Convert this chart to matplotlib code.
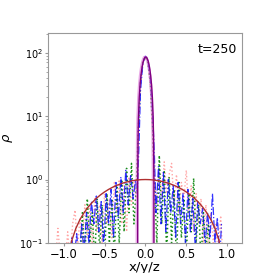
import numpy as np
import matplotlib.pyplot as plt

# ----------------------------
# Data
# ----------------------------
# broad analytic profile (radius 1, centre density 1)
r_broad = [0.0, 0.05, 0.10, 0.15, 0.20, 0.25, 0.30, 0.35, 0.40, 0.45, 0.50,
           0.55, 0.60, 0.65, 0.70, 0.75, 0.80, 0.85, 0.90, 0.95]
rho_broad = [1.0, 0.996, 0.984, 0.963, 0.935, 0.900, 0.858, 0.810, 0.757, 0.699, 0.637,
             0.572, 0.505, 0.436, 0.368, 0.300, 0.234, 0.170, 0.109, 0.052]

# compact core profile (radius 0.1, centre density ~85)
r_core = [0.0, 0.01, 0.02, 0.03, 0.04, 0.05, 0.06, 0.07, 0.08, 0.09, 0.095, 0.099, 0.1]
rho_core = [85.0, 84.7, 79.5, 73.0, 64.4, 54.1, 42.9, 31.3, 19.9, 9.3, 4.4, 0.9, 0.001]
core_centre = 0.005
core_centre_b = -0.004

# blue dash-dot
x_blue = [-0.93, -0.90, -0.87, -0.84, -0.81, -0.78, -0.75, -0.72, -0.69, -0.66, -0.63,
          -0.60, -0.57, -0.54, -0.51, -0.48, -0.45, -0.42, -0.39, -0.36, -0.33, -0.30,
          -0.27, -0.24, -0.21, -0.18, -0.15, -0.12, -0.10, -0.08, -0.06, -0.03, 0.0,
          0.03, 0.06, 0.09, 0.11, 0.13, 0.16, 0.19, 0.22, 0.25, 0.28, 0.31, 0.34, 0.37,
          0.40, 0.43, 0.46, 0.49, 0.52, 0.55, 0.58, 0.61, 0.64, 0.67, 0.70, 0.73, 0.76,
          0.79, 0.82, 0.85, 0.88, 0.91, 0.93]
y_blue = [0.05, 0.12, 0.06, 0.14, 0.05, 0.20, 0.07, 0.30, 0.10, 0.45, 0.20,
          0.55, 0.15, 0.45, 0.08, 0.60, 0.20, 0.70, 0.12, 0.90, 0.25, 1.10,
          0.30, 1.40, 0.40, 1.20, 0.50, 1.00, 0.60, 3.0, 25.0, 70.0, 88.0,
          75.0, 40.0, 10.0, 2.5, 0.30, 1.60, 0.20, 1.30, 0.15, 1.00, 0.30, 0.80, 0.12,
          0.90, 0.20, 0.60, 0.10, 0.70, 0.15, 0.50, 0.08, 0.45, 0.20, 0.35, 0.09, 0.30,
          0.12, 0.60, 0.10, 0.25, 0.06, 0.20]

# green dotted
x_green = [-0.80, -0.77, -0.74, -0.71, -0.68, -0.65, -0.62, -0.59, -0.56, -0.53, -0.50,
           -0.47, -0.44, -0.41, -0.38, -0.35, -0.32, -0.29, -0.26, -0.23, -0.20, -0.17,
           -0.14, -0.11, -0.09, -0.06, -0.03, 0.0, 0.03, 0.06, 0.09, 0.11, 0.14, 0.17,
           0.20, 0.23, 0.26, 0.29, 0.32, 0.35, 0.38, 0.41, 0.44, 0.47, 0.50, 0.53, 0.56,
           0.59, 0.62, 0.65, 0.68, 0.71, 0.74, 0.77, 0.80]
y_green = [0.05, 0.30, 0.06, 0.50, 0.10, 0.30, 0.05, 0.50, 0.08, 0.40, 0.05,
           0.60, 0.10, 0.50, 0.06, 0.80, 0.10, 1.00, 0.15, 1.50, 0.30, 1.80,
           0.20, 0.80, 5.0, 35.0, 75.0, 85.0, 72.0, 35.0, 6.0, 0.80, 0.10, 2.40,
           0.20, 1.40, 0.06, 1.10, 0.10, 0.70, 0.05, 0.90, 0.12, 0.50, 0.06, 0.60, 0.15,
           1.05, 0.10, 0.40, 0.05, 0.30, 0.08, 0.20, 0.05]

# light red dotted
x_red = [-1.10, -1.07, -1.04, -0.98, -0.95, -0.92, -0.89, -0.86, -0.83, -0.80, -0.77,
         -0.74, -0.71, -0.68, -0.65, -0.62, -0.59, -0.56, -0.53, -0.50, -0.47, -0.44,
         -0.41, -0.38, -0.35, -0.32, -0.29, -0.26, -0.23, -0.20, -0.17, -0.14, -0.11,
         -0.09, -0.06, -0.03, 0.0, 0.03, 0.06, 0.09, 0.11, 0.14, 0.17, 0.20, 0.23,
         0.26, 0.29, 0.32, 0.35, 0.38, 0.41, 0.44, 0.47, 0.50, 0.53, 0.56, 0.59, 0.62,
         0.65, 0.68, 0.71, 0.74, 0.77, 0.80, 0.83, 0.86, 0.89, 0.92, 0.95]
y_red = [0.05, 0.17, 0.06, 0.05, 0.15, 0.05, 0.20, 0.33, 0.08, 0.25, 0.10,
         0.40, 0.12, 0.35, 0.09, 0.50, 0.15, 0.40, 0.10, 0.60, 0.20, 0.50,
         0.12, 0.90, 0.30, 1.00, 0.20, 0.80, 0.15, 1.10, 0.40, 0.90, 0.50,
         3.0, 30.0, 72.0, 86.0, 70.0, 30.0, 5.0, 1.20, 0.40, 1.50, 0.50, 1.90,
         0.60, 1.20, 1.80, 0.40, 1.20, 0.30, 0.90, 0.50, 1.40, 0.30, 0.80, 0.15, 0.60,
         0.20, 0.50, 0.10, 0.40, 0.08, 0.30, 0.10, 0.20, 0.06, 0.27, 0.05]

time_label = "t=250"

# ----------------------------
# Build mirrored analytic curves
# ----------------------------
r_broad = np.array(r_broad)
rho_broad = np.array(rho_broad)
xb = np.concatenate([-r_broad[::-1], r_broad[1:]])
yb = np.concatenate([rho_broad[::-1], rho_broad[1:]])

r_core = np.array(r_core)
rho_core = np.array(rho_core)
xc = np.concatenate([-r_core[::-1], r_core[1:]])
yc = np.concatenate([rho_core[::-1], rho_core[1:]])

# ----------------------------
# Plot
# ----------------------------
fig = plt.figure(figsize=(2.7, 2.73), dpi=100)
ax = fig.add_axes([0.178, 0.11, 0.718, 0.769])

ax.plot(x_red, y_red, ':', color="red", lw=1.0, alpha=0.35)
ax.plot(x_green, y_green, ':', color="green", lw=1.1, alpha=0.9)
ax.plot(x_blue, y_blue, '-.', color="blue", lw=0.9, alpha=0.8)

ax.plot(xc + core_centre_b, yc, '-', color="orchid", lw=2.0, alpha=0.6)
ax.plot(xc + core_centre, yc, '-', color="purple", lw=1.0)
ax.plot(xb, yb, '-', color="#b03030", lw=1.0)

ax.set_yscale("log")
ax.set_xlim(-1.19, 1.18)
ax.set_ylim(0.1, 204)
ax.set_xticks([-1.0, -0.5, 0.0, 0.5, 1.0])

ax.set_xlabel("x/y/z", fontsize=9.5, labelpad=0)
ax.set_ylabel(r"$\rho$", fontsize=9.5)
ax.yaxis.set_label_coords(-0.17, 0.5)
ax.text(0.975, 0.92, time_label, transform=ax.transAxes,
        ha="right", va="center", fontsize=9)

ax.tick_params(which="major", length=2, color="#999999", pad=1.5)
ax.tick_params(axis="x", labelsize=8.3)
ax.tick_params(axis="y", labelsize=7)
ax.tick_params(which="minor", length=1.5, color="#999999")
for s in ax.spines.values():
    s.set_color("#999999")

plt.savefig("out.png", dpi=100)
